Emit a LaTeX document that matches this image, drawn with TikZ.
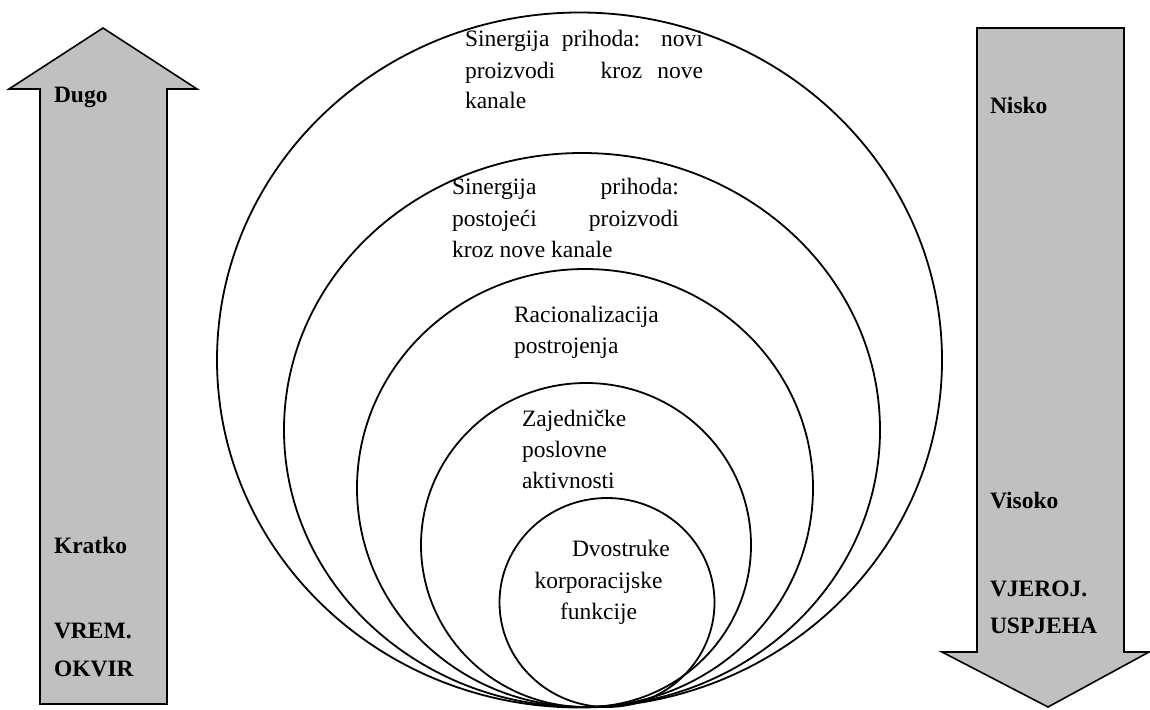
\documentclass[tikz,border=0pt]{standalone}
\usepackage{fontspec}
\setmainfont{Liberation Serif}
\definecolor{arrowgray}{HTML}{C0C0C0}
\begin{document}
\begin{tikzpicture}[x=1pt,y=-1pt,
  ring/.style={draw=black, line width=1.8pt},
  bigarrow/.style={draw=black, fill=arrowgray, line width=1.6pt, line join=miter},
  lbl/.style={anchor=base west, inner sep=0pt, outer sep=0pt, font=\fontsize{23.5}{30}\selectfont},
  blbl/.style={lbl, font=\fontsize{23.5}{30}\selectfont\bfseries}]
\useasboundingbox (0,0) rectangle (1150,709);
\fill[white] (0,0) rectangle (1150,709);
% arrows
\draw[bigarrow] (40,704) -- (40,89) -- (9,89) -- (103,28) -- (197,89) -- (167,89) -- (167,704) -- cycle;
\draw[bigarrow] (977,28) -- (1124,28) -- (1124,652) -- (1149,652) -- (1048,707) -- (942,652) -- (977,652) -- cycle;
% rings
\draw[ring] (579.5,360) ellipse [x radius=362.5pt, y radius=347.5pt];
\draw[ring] (582,430) ellipse [x radius=298pt, y radius=277pt];
\draw[ring] (585,488) ellipse [x radius=228pt, y radius=219pt];
\draw[ring] (586,545) ellipse [x radius=165pt, y radius=162pt];
\draw[ring] (607,602.5) ellipse [x radius=107.5pt, y radius=104.5pt];
% left arrow labels
\node[blbl] (dugo) at (54,102) {Dugo};
\node[blbl] (kratko) at (54,553) {Kratko};
\node[blbl] (vrem) at (54,638) {VREM.};
\node[blbl] (okvir) at (54,676) {OKVIR};
% right arrow labels
\node[blbl] (nisko) at (990,113) {Nisko};
\node[blbl] (visoko) at (990,508) {Visoko};
\node[blbl] (vjeroj) at (990,596) {VJEROJ.};
\node[blbl] (uspjeha) at (990,633) {USPJEHA};
% ring 1 text
\node[lbl] (a1) at (465,47) {\makebox[238pt][s]{Sinergija prihoda: novi}};
\node[lbl] (a2) at (465,78) {\makebox[238pt][s]{proizvodi\hfill kroz\hspace{15pt}nove}};
\node[lbl] (a3) at (465,108) {kanale};
% ring 2 text
\node[lbl] (b1) at (452,194) {\makebox[227pt][s]{Sinergija\hfill prihoda:}};
\node[lbl] (b2) at (452,226) {\makebox[227pt][s]{postojeći\hfill proizvodi}};
\node[lbl] (b3) at (452,257) {kroz nove kanale};
% ring 3 text
\node[lbl] (c1) at (514,322) {Racionalizacija};
\node[lbl] (c2) at (514,353) {postrojenja};
% ring 4 text
\node[lbl] (d1) at (522,426) {Zajedničke};
\node[lbl] (d2) at (522,457) {poslovne};
\node[lbl] (d3) at (522,488) {aktivnosti};
% ring 5 text
\node[lbl] (e1) at (572,556) {Dvostruke};
\node[lbl, anchor=base] (e2) at (598.5,588) {korporacijske};
\node[lbl, anchor=base] (e3) at (598.5,619) {funkcije};
\end{tikzpicture}
\end{document}
